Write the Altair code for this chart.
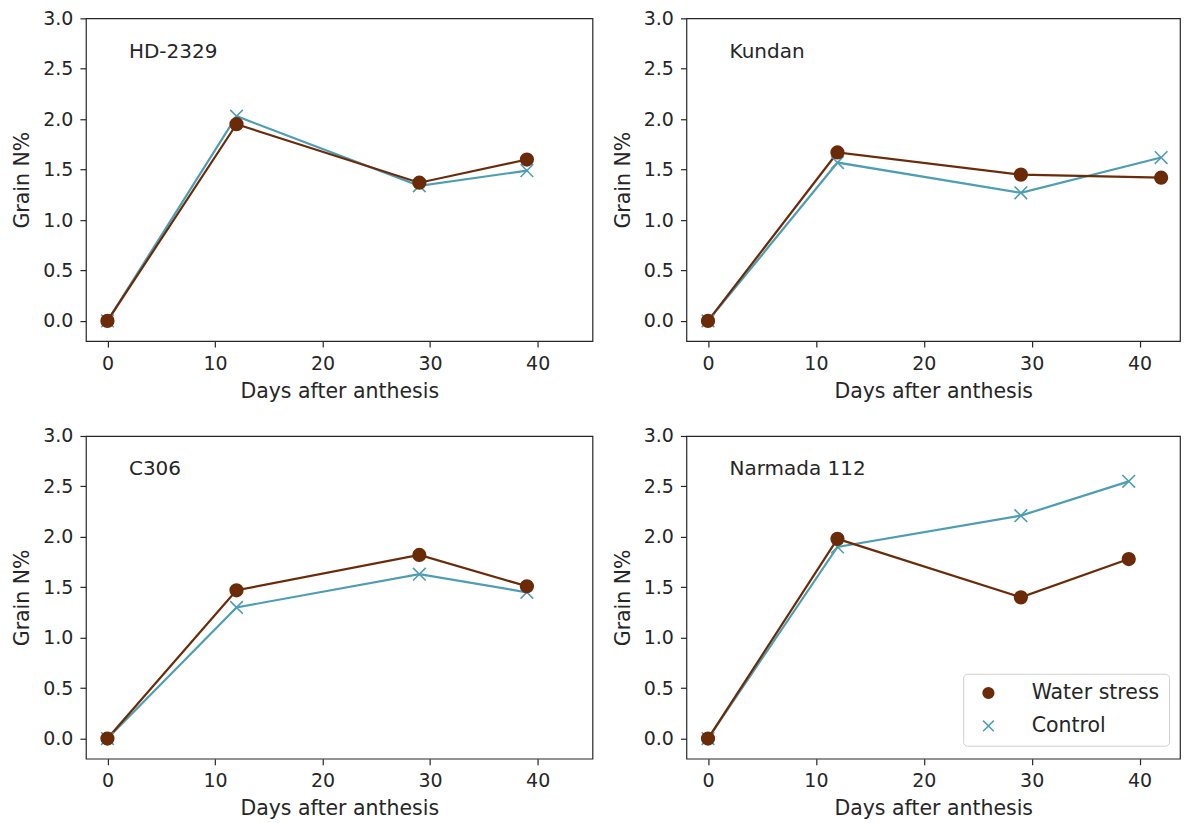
import altair as alt
import pandas as pd

# ---- data ----
varieties = ["HD-2329", "Kundan", "C306", "Narmada 112"]

hd_days = [0, 12, 29, 39]
hd_stress = [0.0, 1.95, 1.37, 1.60]
hd_control = [0.0, 2.03, 1.34, 1.49]

ku_days = [0, 12, 29, 42]
ku_stress = [0.0, 1.67, 1.45, 1.42]
ku_control = [0.0, 1.57, 1.27, 1.62]

c3_days = [0, 12, 29, 39]
c3_stress = [0.0, 1.47, 1.82, 1.51]
c3_control = [0.0, 1.30, 1.63, 1.45]

na_days = [0, 12, 29, 39]
na_stress = [0.0, 1.98, 1.40, 1.78]
na_control = [0.0, 1.90, 2.21, 2.55]

series_names = ["Water stress", "Control"]
x_ticks = [0, 10, 20, 30, 40]
y_ticks = [0.0, 0.5, 1.0, 1.5, 2.0, 2.5, 3.0]

BROWN = "#6B2A08"
TEAL = "#4E9EB3"
INK = "#262626"
FONT = "DejaVu Sans"
XMARK = "M-1,-1L1,1M-1,1L1,-1"


def panel(name, days, stress, control, width, xmax, show_legend):
    # control rows first so that the water-stress markers are drawn on top
    df = pd.DataFrame({
        "day": days + days,
        "n": control + stress,
        "series": [series_names[1]] * len(days) + [series_names[0]] * len(days),
    })
    x = alt.X("day:Q",
              scale=alt.Scale(domain=[-2, xmax], nice=False, zero=False),
              axis=alt.Axis(values=x_ticks, title="Days after anthesis", format="d"))
    y = alt.Y("n:Q",
              scale=alt.Scale(domain=[-0.2, 3.0], nice=False, zero=False),
              axis=alt.Axis(values=y_ticks, title="Grain N%", format=".1f"))
    if show_legend:
        leg = alt.Legend(title=None, orient="none", legendX=277, legendY=238,
                         labelFontSize=20.5, labelFont=FONT, labelColor=INK,
                         symbolSize=115, symbolStrokeWidth=1.5,
                         padding=9, rowPadding=12, labelOffset=33,
                         fillColor="white", strokeColor="#d0d0d0",
                         cornerRadius=4, symbolOffset=6, labelLimit=300)
    else:
        leg = None
    color = alt.Color("series:N",
                      scale=alt.Scale(domain=series_names, range=[BROWN, TEAL]),
                      legend=leg)
    fill = alt.Fill("series:N",
                    scale=alt.Scale(domain=series_names, range=[BROWN, "transparent"]),
                    legend=leg)
    shape = alt.Shape("series:N",
                      scale=alt.Scale(domain=series_names, range=["circle", XMARK]),
                      legend=leg)

    base = alt.Chart(df)
    line_c = base.transform_filter(alt.datum.series == series_names[1]).mark_line(
        strokeWidth=2.2, color=TEAL).encode(x=x, y=y)
    line_w = base.transform_filter(alt.datum.series == series_names[0]).mark_line(
        strokeWidth=2.2, color=BROWN).encode(x=x, y=y)
    points = base.mark_point(size=160, strokeWidth=1.6, opacity=1).encode(
        x=x, y=y, color=color, fill=fill, shape=shape,
    )
    label_df = pd.DataFrame({"day": [2], "n": [2.61], "name": [name]})
    label = alt.Chart(label_df).mark_text(
        align="left", baseline="alphabetic", fontSize=20, font=FONT, color=INK
    ).encode(x=alt.X("day:Q"), y=alt.Y("n:Q"), text="name:N")
    return alt.layer(line_c, line_w, points, label).properties(width=width, height=323)


p1 = panel(varieties[0], hd_days, hd_stress, hd_control, 507, 45.1, False)
p2 = panel(varieties[1], ku_days, ku_stress, ku_control, 494, 43.75, False)
p3 = panel(varieties[2], c3_days, c3_stress, c3_control, 507, 45.1, False)
p4 = panel(varieties[3], na_days, na_stress, na_control, 494, 43.75, True)

IND = dict(color="independent", fill="independent", shape="independent")

row1 = alt.hconcat(p1, p2, spacing=19).resolve_scale(**IND).resolve_legend(**IND)
row2 = alt.hconcat(p3, p4, spacing=19).resolve_scale(**IND).resolve_legend(**IND)

chart = alt.vconcat(row1, row2, spacing=23).resolve_scale(**IND).resolve_legend(**IND).properties(
    padding={"left": 4, "top": 0, "right": 0, "bottom": 0}
).configure_view(
    stroke=INK, strokeWidth=1.2
).configure_axis(
    domain=False, grid=False,
    tickColor=INK, tickWidth=1.2, tickSize=6,
    labelFont=FONT, labelFontSize=19, labelColor=INK, labelPadding=7,
    titleFont=FONT, titleFontSize=20.5, titleColor=INK, titleFontWeight="normal",
).configure_axisY(
    titlePadding=10
).configure_axisX(
    titlePadding=8
)

chart.save("out.html", embed_options={"renderer": "svg", "actions": False})
